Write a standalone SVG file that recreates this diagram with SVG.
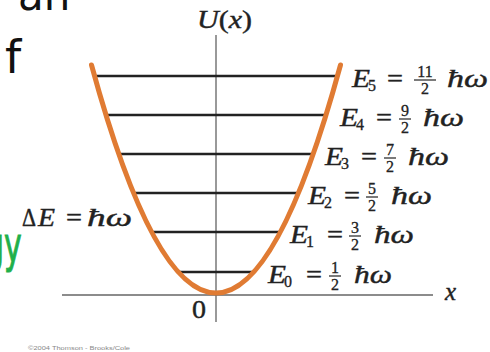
<svg xmlns="http://www.w3.org/2000/svg" width="490" height="352" viewBox="0 0 490 352">
<style>
.m{font-family:"Liberation Serif","DejaVu Serif",serif;font-style:italic;font-size:25px;fill:#222;stroke:#222;stroke-width:0.4}
.r{font-family:"Liberation Serif","DejaVu Serif",serif;font-size:25px;fill:#222;stroke:#222;stroke-width:0.4}
.s{font-family:"Liberation Serif","DejaVu Serif",serif;font-size:16px;fill:#222;stroke:#222;stroke-width:0.3}
.lvl{stroke:#222;stroke-width:2.5;fill:none}
.bar{stroke:#222;stroke-width:1.2}
.hand{font-family:"DejaVu Sans",sans-serif;fill:#111}
</style>
<rect width="490" height="352" fill="#fff"/>
<g id="slide-text">
<text class="hand" x="18" y="10" font-size="42">an</text>
<text class="hand" x="5" y="73" font-size="46">f</text>
<text class="hand" transform="scale(0.6,1)" x="-25" y="262" font-size="50" style="fill:#1fb04a;stroke:#1fb04a;stroke-width:1">gy</text>
</g>
<g id="axes">
<line x1="216" y1="35" x2="216" y2="322" stroke="#999" stroke-width="2"/>
<line x1="62" y1="295" x2="433" y2="295" stroke="#666" stroke-width="1.5"/>
<text class="m" x="197" y="28" textLength="55" lengthAdjust="spacingAndGlyphs">U<tspan style="font-style:normal">(</tspan>x<tspan style="font-style:normal">)</tspan></text>
<text class="m" x="445" y="300">x</text>
<text class="r" x="192" y="318" textLength="14" lengthAdjust="spacingAndGlyphs">0</text>
</g>
<g id="levels">
<line class="lvl" x1="94.5" y1="76" x2="337.5" y2="76"/>
<line class="lvl" x1="106" y1="115" x2="326" y2="115"/>
<line class="lvl" x1="118.8" y1="154" x2="313.2" y2="154"/>
<line class="lvl" x1="133.5" y1="193" x2="298.5" y2="193"/>
<line class="lvl" x1="151.6" y1="232" x2="280.4" y2="232"/>
<line class="lvl" x1="178.2" y1="272" x2="253.8" y2="272"/>
</g>
<g id="parabola">
<path d="M91.5 65 Q216 521 340.5 65" fill="none" stroke="#E07B33" stroke-width="5" stroke-linecap="round"/>
</g>
<g id="label-E5" transform="translate(352,76)">
<text class="m" x="0" y="11" textLength="18" lengthAdjust="spacingAndGlyphs">E</text><text class="s" x="16" y="15">5</text>
<text class="r" x="35" y="11" textLength="16" lengthAdjust="spacingAndGlyphs">=</text>
<text class="s" x="73" y="1" text-anchor="middle">11</text><line class="bar" x1="62" y1="4" x2="84" y2="4"/><text class="s" x="73" y="18" text-anchor="middle">2</text>
<text class="m" x="95" y="11" textLength="41" lengthAdjust="spacingAndGlyphs">ħω</text>
</g>
<g id="label-E4" transform="translate(340,115)">
<text class="m" x="0" y="11" textLength="18" lengthAdjust="spacingAndGlyphs">E</text><text class="s" x="16" y="15">4</text>
<text class="r" x="36" y="11" textLength="16" lengthAdjust="spacingAndGlyphs">=</text>
<text class="s" x="65" y="1" text-anchor="middle">9</text><line class="bar" x1="59" y1="4" x2="71" y2="4"/><text class="s" x="65" y="18" text-anchor="middle">2</text>
<text class="m" x="83" y="11" textLength="41" lengthAdjust="spacingAndGlyphs">ħω</text>
</g>
<g id="label-E3" transform="translate(325,154)">
<text class="m" x="0" y="11" textLength="18" lengthAdjust="spacingAndGlyphs">E</text><text class="s" x="16" y="15">3</text>
<text class="r" x="36" y="11" textLength="16" lengthAdjust="spacingAndGlyphs">=</text>
<text class="s" x="65" y="1" text-anchor="middle">7</text><line class="bar" x1="59" y1="4" x2="71" y2="4"/><text class="s" x="65" y="18" text-anchor="middle">2</text>
<text class="m" x="83" y="11" textLength="41" lengthAdjust="spacingAndGlyphs">ħω</text>
</g>
<g id="label-E2" transform="translate(308,193)">
<text class="m" x="0" y="11" textLength="18" lengthAdjust="spacingAndGlyphs">E</text><text class="s" x="16" y="15">2</text>
<text class="r" x="36" y="11" textLength="16" lengthAdjust="spacingAndGlyphs">=</text>
<text class="s" x="64" y="1" text-anchor="middle">5</text><line class="bar" x1="58" y1="4" x2="70" y2="4"/><text class="s" x="64" y="18" text-anchor="middle">2</text>
<text class="m" x="83" y="11" textLength="41" lengthAdjust="spacingAndGlyphs">ħω</text>
</g>
<g id="label-E1" transform="translate(290,232)">
<text class="m" x="0" y="11" textLength="18" lengthAdjust="spacingAndGlyphs">E</text><text class="s" x="16" y="15">1</text>
<text class="r" x="37" y="11" textLength="16" lengthAdjust="spacingAndGlyphs">=</text>
<text class="s" x="65" y="1" text-anchor="middle">3</text><line class="bar" x1="59" y1="4" x2="71" y2="4"/><text class="s" x="65" y="18" text-anchor="middle">2</text>
<text class="m" x="84" y="11" textLength="40" lengthAdjust="spacingAndGlyphs">ħω</text>
</g>
<g id="label-E0" transform="translate(268,272)">
<text class="m" x="0" y="11" textLength="18" lengthAdjust="spacingAndGlyphs">E</text><text class="s" x="16" y="15">0</text>
<text class="r" x="38" y="11" textLength="16" lengthAdjust="spacingAndGlyphs">=</text>
<text class="s" x="67" y="1" text-anchor="middle">1</text><line class="bar" x1="61" y1="4" x2="73" y2="4"/><text class="s" x="67" y="18" text-anchor="middle">2</text>
<text class="m" x="86" y="11" textLength="38" lengthAdjust="spacingAndGlyphs">ħω</text>
</g>
<g id="label-dE">
<text class="r" x="22" y="226" textLength="14" lengthAdjust="spacingAndGlyphs">Δ</text>
<text class="m" x="38" y="226" textLength="17" lengthAdjust="spacingAndGlyphs">E</text>
<text class="r" x="66" y="226" textLength="16" lengthAdjust="spacingAndGlyphs">=</text>
<text class="m" x="87" y="226" textLength="45" lengthAdjust="spacingAndGlyphs">ħω</text>
</g>
<text x="28" y="350" font-family="Liberation Sans, sans-serif" font-size="6" fill="#888" textLength="102" lengthAdjust="spacingAndGlyphs">©2004 Thomson - Brooks/Cole</text>
</svg>
